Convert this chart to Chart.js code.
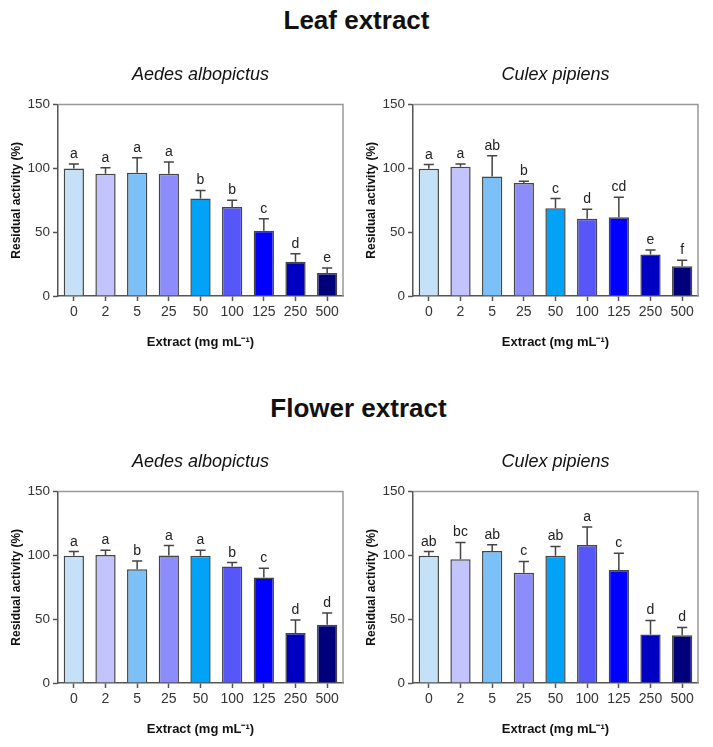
<!DOCTYPE html>
<html>
<head>
<meta charset="utf-8">
<script src="https://cdn.jsdelivr.net/npm/chart.js@4/dist/chart.umd.min.js"></script>
<style>
  body { margin: 0; width: 713px; height: 747px; overflow: hidden; background: #fff; font-family: 'Liberation Sans', Arial, sans-serif; }
  .head { position: absolute; left: 0; width: 713px; text-align: center; font-weight: bold; font-size: 26px; color: #111; }
  canvas { position: absolute; }
</style>
</head>
<body>
<div class="head" style="top: 5px; left: 0px;">Leaf extract</div>
<div class="head" style="top: 393px; left: 2px;">Flower extract</div>
<canvas id="leafAedes" width="356" height="320" style="left:0px;top:45px"></canvas>
<canvas id="leafCulex" width="356" height="320" style="left:355px;top:45px"></canvas>
<canvas id="flowerAedes" width="356" height="320" style="left:0px;top:432px"></canvas>
<canvas id="flowerCulex" width="356" height="320" style="left:355px;top:432px"></canvas>
<script>
const doses = ['0', '2', '5', '25', '50', '100', '125', '250', '500'];
const barColors = ['#c5e1f8', '#c3c3fd', '#7bc1f8', '#8c8dfb', '#02a3f6', '#5656f9', '#0000fb', '#0000c2', '#00007d'];
const yTicks = [0, 50, 100, 150];

// leaf extract
const leafAedesMean = [100, 95.8, 96.6, 95.8, 76.4, 69.8, 51.2, 26.8, 18.1];
const leafAedesSd = [3.4, 4.7, 11.8, 9.2, 6.3, 5.2, 9.4, 6.3, 3.9];
const leafAedesLetters = ['a', 'a', 'a', 'a', 'b', 'b', 'c', 'd', 'e'];

const leafCulexMean = [99.7, 101.3, 93.7, 88.5, 68.8, 60.6, 61.7, 32.5, 23.4];
const leafCulexSd = [3.3, 2.1, 16.3, 1.5, 7.6, 7.4, 15.7, 3.5, 4.6];
const leafCulexLetters = ['a', 'a', 'ab', 'b', 'c', 'd', 'cd', 'e', 'f'];

// flower extract
const flowerAedesMean = [99.7, 100.4, 89.2, 99.9, 99.7, 91.3, 82.7, 39.1, 45.7];
const flowerAedesSd = [3.3, 3.6, 6.5, 7.8, 4.3, 3.1, 7.3, 10.2, 9.1];
const flowerAedesLetters = ['a', 'a', 'b', 'a', 'a', 'b', 'c', 'd', 'd'];

const flowerCulexMean = [99.7, 96.9, 103.4, 86.4, 99.7, 108.1, 88.5, 38, 37.4];
const flowerCulexSd = [3.3, 13.3, 5, 8.9, 7.3, 14.2, 13.1, 11, 6.1];
const flowerCulexLetters = ['ab', 'bc', 'ab', 'c', 'ab', 'a', 'c', 'd', 'd'];

const FONT = "'Liberation Sans', Arial, sans-serif";

// upper error bars + significance letters
const errorBars = {
    id: 'errorBars',
    afterDatasetsDraw(chart, args, opts) {
        const { ctx } = chart;
        const y = chart.scales.y;
        const meta = chart.getDatasetMeta(0);
        const values = chart.data.datasets[0].data;
        ctx.save();
        ctx.strokeStyle = '#444';
        ctx.lineWidth = 1.5;
        ctx.fillStyle = '#222';
        ctx.font = '14px ' + FONT;
        ctx.textAlign = 'center';
        ctx.textBaseline = 'alphabetic';
        meta.data.forEach((bar, i) => {
            const base = y.getPixelForValue(values[i]);
            const top = y.getPixelForValue(values[i] + opts.sd[i]);
            const half = bar.width / 4;
            ctx.beginPath();
            ctx.moveTo(bar.x, base);
            ctx.lineTo(bar.x, top);
            ctx.moveTo(bar.x - half, top);
            ctx.lineTo(bar.x + half, top);
            ctx.stroke();
            ctx.fillText(opts.letters[i], bar.x, top - 6);
        });
        ctx.restore();
    }
};

// light frame on top and right
const frame = {
    id: 'frame',
    afterDraw(chart) {
        const { ctx, chartArea: a } = chart;
        ctx.save();
        ctx.strokeStyle = '#999';
        ctx.lineWidth = 1.5;
        ctx.beginPath();
        ctx.moveTo(a.left, a.top);
        ctx.lineTo(a.right, a.top);
        ctx.lineTo(a.right, a.bottom);
        ctx.stroke();
        ctx.restore();
    }
};

function makeChart(id, title, mean, sd, letters) {
    return new Chart(document.getElementById(id), {
        type: 'bar',
        data: {
            labels: doses,
            datasets: [{
                data: mean,
                backgroundColor: barColors,
                borderColor: '#454545',
                borderWidth: 1.5,
                barPercentage: 0.64,
                categoryPercentage: 1.0
            }]
        },
        options: {
            responsive: false,
            animation: false,
            layout: { padding: { left: 0, right: 13, top: 0, bottom: 0 } },
            plugins: {
                legend: { display: false },
                tooltip: { enabled: false },
                title: {
                    display: true,
                    text: title,
                    fullSize: false,
                    color: '#111',
                    font: { family: FONT, size: 18, style: 'italic', weight: 'normal' },
                    padding: { top: 19, bottom: 19 }
                },
                errorBars: { sd, letters }
            },
            scales: {
                x: {
                    grid: { display: true, drawOnChartArea: false, offset: false, tickLength: 5, tickColor: '#555', tickWidth: 1.5 },
                    border: { color: '#555', width: 1.5 },
                    ticks: { color: '#333', padding: 3, font: { family: FONT, size: 14 } },
                    title: {
                        display: true,
                        text: 'Extract (mg mL⁻¹)',
                        color: '#111',
                        font: { family: FONT, size: 13, weight: 'bold' },
                        padding: { top: 0, bottom: 15 }
                    },
                    afterFit(scale) { scale.height = 69; }
                },
                y: {
                    min: 0,
                    max: 150,
                    afterBuildTicks(scale) { scale.ticks = yTicks.map(v => ({ value: v })); },
                    grid: { display: true, drawOnChartArea: false, tickLength: 5, tickColor: '#555', tickWidth: 1.5 },
                    border: { color: '#555', width: 1.5 },
                    ticks: { color: '#333', padding: 3, font: { family: FONT, size: 13.5 } },
                    title: {
                        display: true,
                        text: 'Residual activity (%)',
                        color: '#111',
                        font: { family: FONT, size: 12, weight: 'bold' },
                        padding: { top: 9, bottom: 0 }
                    },
                    afterFit(scale) { scale.width = 58; }
                }
            }
        },
        plugins: [errorBars, frame]
    });
}

makeChart('leafAedes', 'Aedes albopictus', leafAedesMean, leafAedesSd, leafAedesLetters);
makeChart('leafCulex', 'Culex pipiens', leafCulexMean, leafCulexSd, leafCulexLetters);
makeChart('flowerAedes', 'Aedes albopictus', flowerAedesMean, flowerAedesSd, flowerAedesLetters);
makeChart('flowerCulex', 'Culex pipiens', flowerCulexMean, flowerCulexSd, flowerCulexLetters);
</script>
</body>
</html>
